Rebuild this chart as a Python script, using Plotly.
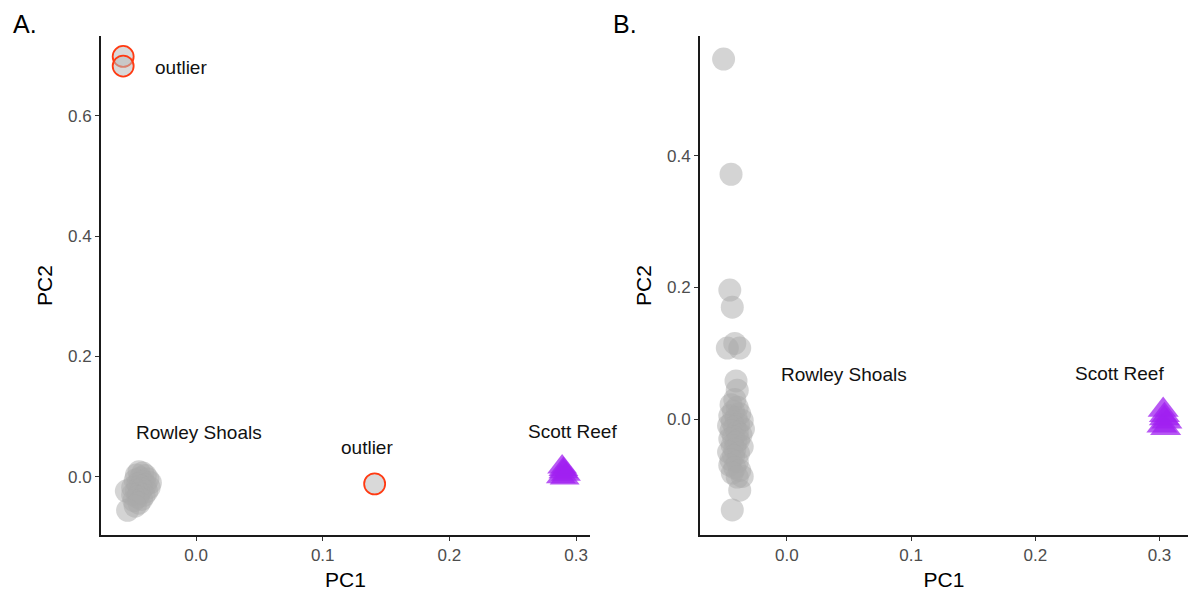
import plotly.graph_objects as go

# ---------------- Panel A: PCA with outliers ----------------
a_rs_pc1 = [-0.045, -0.042, -0.047, -0.040, -0.044, -0.038, -0.048, -0.042, -0.036,
            -0.046, -0.040, -0.044, -0.050, -0.037, -0.043, -0.047, -0.055, -0.039,
            -0.045, -0.050, -0.041, -0.046, -0.043, -0.049, -0.045, -0.048, -0.054]
a_rs_pc2 = [0.008, 0.006, 0.003, 0.002, -0.002, -0.004, -0.006, -0.008, -0.010,
            -0.012, -0.014, -0.016, -0.018, -0.018, -0.021, -0.023, -0.024, -0.025,
            -0.028, -0.030, -0.031, -0.034, -0.038, -0.040, -0.044, -0.049, -0.056]

a_out_pc1 = [-0.0575, -0.0575, 0.141]
a_out_pc2 = [0.699, 0.683, -0.012]

a_sr_pc1 = [0.288, 0.290, 0.292, 0.289, 0.291, 0.290]
a_sr_pc2 = [0.000, 0.012, 0.004, 0.016, -0.002, 0.008]

# ---------------- Panel B: PCA without outliers ----------------
b_rs_pc1 = [-0.051, -0.045, -0.046, -0.044, -0.048, -0.042, -0.038, -0.041, -0.040,
            -0.044, -0.038, -0.036,
            -0.042, -0.045, -0.040, -0.043, -0.038, -0.046, -0.041, -0.036, -0.044,
            -0.039, -0.047, -0.042, -0.035, -0.045, -0.040, -0.037, -0.043, -0.046,
            -0.039, -0.041, -0.044, -0.036, -0.042, -0.047, -0.039, -0.043, -0.045,
            -0.040, -0.046, -0.042, -0.038, -0.044, -0.040]
b_rs_pc2 = [0.547, 0.372, 0.196, 0.170, 0.108, 0.115, 0.108, 0.058, 0.044,
            -0.138, -0.108, -0.087,
            0.030, 0.022, 0.018, 0.012, 0.008, 0.005, 0.002, -0.002, -0.004,
            -0.008, -0.010, -0.012, -0.015, -0.018, -0.020, -0.024, -0.027, -0.030,
            -0.032, -0.036, -0.040, -0.042, -0.046, -0.050, -0.052, -0.056, -0.062,
            -0.065, -0.070, -0.074, -0.078, -0.082, -0.088]

b_sr_pc1 = [0.302, 0.304, 0.306, 0.303, 0.305, 0.304]
b_sr_pc2 = [-0.010, 0.006, -0.004, 0.014, -0.014, 0.001]

x_ticks = [0.0, 0.1, 0.2, 0.3]
a_y_ticks = [0.0, 0.2, 0.4, 0.6]
b_y_ticks = [0.0, 0.2, 0.4]

GREY = "rgba(170,170,170,0.5)"
PURPLE = "rgba(160,32,240,0.75)"
OUT_FILL = "rgba(185,185,185,0.55)"
OUT_LINE = "#ff3a12"
FONT = "Liberation Sans, Arial, sans-serif"

fig = go.Figure()

fig.add_trace(go.Scatter(x=a_rs_pc1, y=a_rs_pc2, mode="markers", xaxis="x", yaxis="y",
                         marker=dict(size=23, color=GREY, line=dict(width=0))))
fig.add_trace(go.Scatter(x=a_out_pc1, y=a_out_pc2, mode="markers", xaxis="x", yaxis="y",
                         marker=dict(size=21, color=OUT_FILL, line=dict(width=1.8, color=OUT_LINE))))
fig.add_trace(go.Scatter(x=a_sr_pc1, y=a_sr_pc2, mode="markers", xaxis="x", yaxis="y",
                         marker=dict(size=26, symbol="triangle-up", color=PURPLE, line=dict(width=0))))

fig.add_trace(go.Scatter(x=b_rs_pc1, y=b_rs_pc2, mode="markers", xaxis="x2", yaxis="y2",
                         marker=dict(size=23, color=GREY, line=dict(width=0))))
fig.add_trace(go.Scatter(x=b_sr_pc1, y=b_sr_pc2, mode="markers", xaxis="x2", yaxis="y2",
                         marker=dict(size=27, symbol="triangle-up", color=PURPLE, line=dict(width=0))))

axis_common = dict(showgrid=False, zeroline=False, showline=True, linecolor="#1a1a1a",
                   linewidth=1.8, ticks="outside", ticklen=4, tickwidth=1.3,
                   tickcolor="#333333", tickformat=".1f",
                   tickfont=dict(family=FONT, size=17, color="#4d4d4d"),
                   title_font=dict(family=FONT, size=21, color="#000000"))

fig.update_layout(
    width=1196, height=592,
    margin=dict(l=0, r=0, t=0, b=0),
    paper_bgcolor="white", plot_bgcolor="white",
    showlegend=False,
    font=dict(family=FONT),
    xaxis=dict(axis_common, domain=[101 / 1196, 590 / 1196], range=[-0.075, 0.311],
               tickvals=x_ticks, anchor="y", title=dict(text="PC1", standoff=8)),
    yaxis=dict(axis_common, domain=[57 / 592, 556 / 592], range=[-0.097, 0.733],
               tickvals=a_y_ticks, anchor="x", title=dict(text="PC2", standoff=10)),
    xaxis2=dict(axis_common, domain=[700 / 1196, 1188 / 1196], range=[-0.070, 0.323],
                tickvals=x_ticks, anchor="y2", title=dict(text="PC1", standoff=8)),
    yaxis2=dict(axis_common, domain=[57 / 592, 556 / 592], range=[-0.176, 0.582],
                tickvals=b_y_ticks, anchor="x2", title=dict(text="PC2", standoff=10)),
)

label_font = dict(family=FONT, size=19, color="#111111")
annotations = [
    dict(x=-0.012, y=0.681, xref="x", yref="y", text="outlier"),
    dict(x=0.0025, y=0.073, xref="x", yref="y", text="Rowley Shoals"),
    dict(x=0.135, y=0.048, xref="x", yref="y", text="outlier"),
    dict(x=0.297, y=0.075, xref="x", yref="y", text="Scott Reef"),
    dict(x=0.046, y=0.068, xref="x2", yref="y2", text="Rowley Shoals"),
    dict(x=0.268, y=0.070, xref="x2", yref="y2", text="Scott Reef"),
]
for a in annotations:
    fig.add_annotation(showarrow=False, font=label_font, **a)

for txt, px in (("A.", 11), ("B.", 611)):
    fig.add_annotation(x=px / 1196, y=1 - 24 / 592, xref="paper", yref="paper",
                       xanchor="left", yanchor="middle", text=txt, showarrow=False,
                       font=dict(family=FONT, size=25, color="#000000"))

fig.write_html("out.html")
